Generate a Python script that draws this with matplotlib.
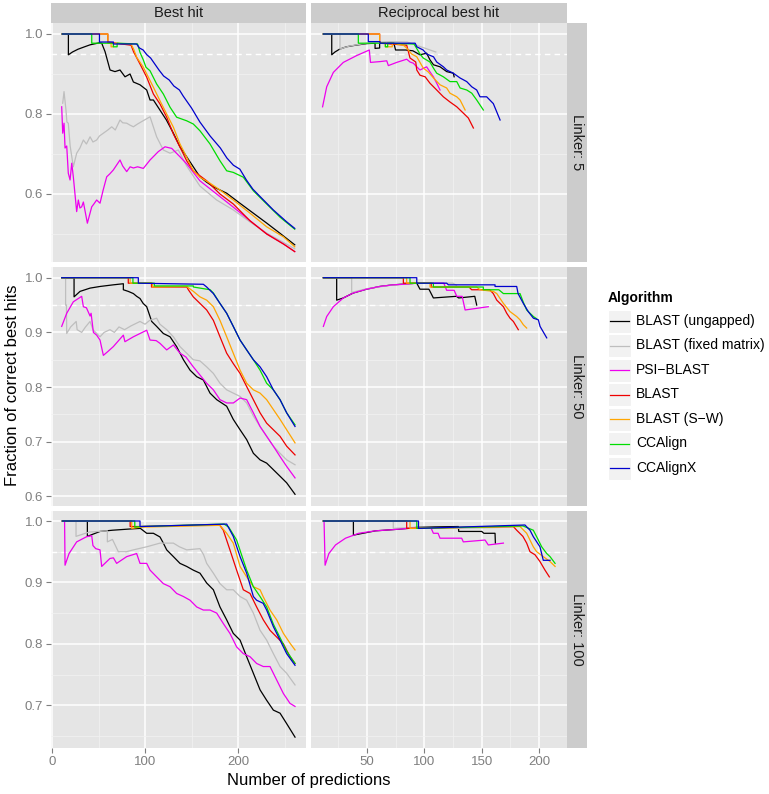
import matplotlib
matplotlib.use("Agg")
import matplotlib.pyplot as plt
from matplotlib.patches import Rectangle

plt.rcParams['font.family'] = ['Liberation Sans', 'DejaVu Sans']

ALGORITHMS = ["BLAST (ungapped)", "BLAST (fixed matrix)", "PSI\u2212BLAST", "BLAST",
              "BLAST (S\u2212W)", "CCAlign", "CCAlignX"]
COLOURS = ["#000000", "#BEBEBE", "#EE00EE", "#EE0000", "#FFA500", "#00DD00", "#0000CD"]
LINKERS = ["Linker: 5", "Linker: 50", "Linker: 100"]
HIT_TYPES = ["Best hit", "Reciprocal best hit"]

# ---- Linker 5, best hit  (x = number of predictions, y = fraction correct)
l5_best_ungapped = [(11, 1.0), (17.6, 1.0), (17.6, 0.948), (22, 0.955), (28, 0.962), (35, 0.968), (41, 0.973),
                    (51, 0.978), (53.4, 0.977), (57, 0.956), (62.4, 0.91), (67.7, 0.906), (73.1, 0.91),
                    (78.5, 0.893), (83.9, 0.9), (87.5, 0.88), (94.6, 0.873), (101.8, 0.86), (105.4, 0.835),
                    (109, 0.835), (116, 0.81), (123, 0.785), (130.5, 0.752), (137.6, 0.718), (144.8, 0.693),
                    (151.9, 0.668), (159, 0.643), (166, 0.63), (173.5, 0.618), (187.8, 0.602), (202, 0.577),
                    (216.5, 0.552), (231, 0.527), (245, 0.502), (261, 0.473)]
l5_best_fixed = [(11.5, 0.827), (12.9, 0.856), (15, 0.81), (16, 0.78), (17.5, 0.777), (19.5, 0.72), (22.9, 0.668),
                 (26.5, 0.702), (30, 0.715), (33.7, 0.735), (37, 0.725), (40.9, 0.743), (44, 0.73), (48, 0.735),
                 (51, 0.745), (55.2, 0.752), (60, 0.76), (64.2, 0.768), (68, 0.76), (73.1, 0.785), (76, 0.778),
                 (80.3, 0.777), (84, 0.772), (87.5, 0.768), (92, 0.775), (96.4, 0.781), (105.4, 0.793),
                 (112.5, 0.743), (119.7, 0.71), (126.9, 0.702), (135.8, 0.71), (144.8, 0.67), (159, 0.62),
                 (177, 0.585), (195, 0.56), (213, 0.53), (231, 0.502), (248, 0.48), (261, 0.463)]
l5_best_psi = [(10.4, 0.818), (11.5, 0.752), (12.9, 0.777), (14, 0.715), (15.8, 0.72), (17.5, 0.652),
               (19.4, 0.635), (21.2, 0.677), (22.9, 0.643), (26.5, 0.556), (28.3, 0.585), (30, 0.565),
               (31.9, 0.568), (33.7, 0.58), (38, 0.527), (42.7, 0.568), (45, 0.575), (48, 0.585), (51.6, 0.577),
               (55, 0.61), (58.8, 0.643), (62, 0.65), (65.9, 0.66), (73.1, 0.685), (76, 0.67), (80.3, 0.656),
               (84, 0.668), (87.5, 0.665), (92, 0.668), (98.2, 0.664), (105.4, 0.685), (114.3, 0.706),
               (121.5, 0.718), (128.7, 0.714), (137.6, 0.693), (145, 0.675), (159, 0.633), (177, 0.6),
               (195, 0.567), (213, 0.533), (231, 0.5), (249, 0.475), (261, 0.456)]
l5_best_blast = [(11, 1.0), (60, 1.0), (60, 0.98), (75, 0.975), (85, 0.972), (87.8, 0.955), (94.6, 0.925),
                 (101.8, 0.892), (109, 0.85), (116.1, 0.825), (123.3, 0.792), (130.5, 0.75), (137.6, 0.717),
                 (144.8, 0.683), (151.9, 0.658), (166.3, 0.633), (180.6, 0.6), (194.9, 0.575), (212.9, 0.533),
                 (230.8, 0.5), (248.8, 0.475), (261, 0.456)]
l5_best_sw = [(11, 1.0), (60, 1.0), (60, 0.977), (63.5, 0.977), (63.5, 0.968), (66, 0.968), (66, 0.977),
              (85, 0.975), (87.8, 0.962), (91, 0.942), (98.2, 0.917), (104, 0.89), (109, 0.867), (116.1, 0.833),
              (123.3, 0.8), (130.5, 0.767), (137.6, 0.725), (144.8, 0.692), (151.9, 0.658), (159.1, 0.642),
              (169.9, 0.627), (180.6, 0.61), (194.9, 0.585), (212.9, 0.552), (230.8, 0.518), (248.8, 0.493),
              (261, 0.468)]
l5_best_ccalign = [(11, 1.0), (42.7, 1.0), (42.7, 0.977), (66, 0.977), (66, 0.968), (70, 0.968), (70, 0.977),
                   (92, 0.975), (94.6, 0.954), (98.2, 0.935), (101, 0.917), (105.4, 0.908), (112.5, 0.875),
                   (119.7, 0.85), (126.9, 0.817), (134, 0.792), (144.8, 0.783), (151.9, 0.775), (159.1, 0.758),
                   (169.9, 0.725), (180.6, 0.683), (187.8, 0.658), (194.9, 0.654), (205.7, 0.642),
                   (216.5, 0.608), (230.8, 0.575), (245.2, 0.542), (261, 0.512)]
l5_best_ccalignx = [(11, 1.0), (51, 1.0), (51, 0.98), (66, 0.98), (66, 0.975), (91, 0.975), (94, 0.965),
                    (98, 0.96), (102, 0.948), (106, 0.94), (109, 0.93), (115, 0.91), (120, 0.895), (126, 0.885),
                    (131, 0.87), (137, 0.86), (141, 0.845), (150, 0.815), (159, 0.78), (170, 0.745),
                    (181, 0.715), (188, 0.69), (195, 0.672), (202, 0.662), (209, 0.635), (216, 0.612),
                    (224, 0.593), (238, 0.56), (252, 0.531), (261, 0.514)]

# ---- Linker 5, reciprocal best hit
l5_rbh_ungapped = [(11.9, 1.0), (19.2, 1.0), (19.2, 0.948), (22, 0.955), (26, 0.962), (32, 0.968), (40, 0.972),
                   (50, 0.976), (57, 0.977), (57, 0.964), (61, 0.965), (61, 0.977), (73.4, 0.977), (74.9, 0.96),
                   (83.6, 0.96), (90, 0.958), (96.2, 0.948), (102, 0.952), (105, 0.935), (108, 0.923),
                   (113.7, 0.918), (119.5, 0.906), (125.3, 0.902), (126, 0.893)]
l5_rbh_fixed = [(11.9, 1.0), (26.4, 1.0), (26.4, 0.962), (30, 0.966), (35, 0.97), (45, 0.975), (55, 0.979),
                (70, 0.981), (85, 0.98), (90, 0.975), (100, 0.965), (107, 0.958), (110, 0.955)]
l5_rbh_psi = [(11.2, 0.818), (14.8, 0.868), (20.6, 0.904), (29.3, 0.929), (40.9, 0.946), (52, 0.96), (53, 0.929),
              (61.3, 0.931), (67.2, 0.933), (68.6, 0.921), (75.9, 0.929), (84.6, 0.937), (87.5, 0.93),
              (90.4, 0.927), (93.4, 0.918), (96.2, 0.91), (102, 0.918), (105, 0.905), (107.9, 0.893),
              (110.8, 0.877), (113.7, 0.86)]
l5_rbh_blast = [(11.9, 1.0), (61, 1.0), (61, 0.977), (84.6, 0.972), (87.5, 0.94), (92.5, 0.93), (93.4, 0.91),
                (96.2, 0.897), (100.7, 0.893), (104.9, 0.877), (110.8, 0.86), (116.6, 0.843), (122.4, 0.83),
                (128.3, 0.818), (134.1, 0.802), (138.4, 0.79), (142.8, 0.765)]
l5_rbh_sw = [(11.9, 1.0), (61, 1.0), (61, 0.977), (66, 0.977), (66, 0.968), (72, 0.968), (72, 0.977),
             (81.7, 0.972), (84.6, 0.965), (88.9, 0.95), (93.4, 0.943), (96, 0.93), (99, 0.915), (103.5, 0.905),
             (108, 0.89), (113.7, 0.873), (119.5, 0.865), (122.4, 0.852), (128.3, 0.843), (131.2, 0.835),
             (135.6, 0.81)]
l5_rbh_ccalign = [(11.9, 1.0), (42.4, 1.0), (42.4, 0.977), (66, 0.977), (66, 0.968), (68, 0.968), (68, 0.977),
                  (91, 0.975), (92.5, 0.968), (96.2, 0.95), (99, 0.94), (104.9, 0.93), (107.9, 0.915),
                  (110.8, 0.902), (116.6, 0.893), (122.4, 0.881), (128.3, 0.881), (131.2, 0.865), (137, 0.86),
                  (141.4, 0.852), (145.7, 0.835), (151.5, 0.81)]
l5_rbh_ccalignx = [(11.9, 1.0), (51.1, 1.0), (51.1, 0.981), (61.3, 0.981), (61.3, 0.977), (92, 0.977),
                   (93.4, 0.968), (99, 0.96), (102, 0.95), (108, 0.943), (110.8, 0.93), (116.6, 0.918),
                   (119.5, 0.91), (125.3, 0.902), (131.2, 0.89), (137, 0.881), (141.4, 0.868), (145.7, 0.86),
                   (148.6, 0.843), (154.4, 0.843), (160.2, 0.826), (166.1, 0.785)]

# ---- Linker 50, best hit
l50_best_ungapped = [(10.4, 1.0), (23.7, 1.0), (23.7, 0.965), (30.1, 0.975), (40.9, 0.981), (51.6, 0.984),
                     (65.9, 0.987), (76.7, 0.989), (76.7, 0.978), (82, 0.975), (87.5, 0.971), (91, 0.966),
                     (94.6, 0.962), (98, 0.953), (101.8, 0.947), (107.2, 0.92), (112.5, 0.911), (119.7, 0.898),
                     (126.9, 0.892), (134, 0.874), (141.3, 0.85), (148.4, 0.831), (155.6, 0.819), (162.7, 0.813),
                     (169.9, 0.789), (177.1, 0.777), (187.8, 0.765), (194.9, 0.741), (202.2, 0.722),
                     (209.3, 0.704), (216.5, 0.679), (223.7, 0.667), (230.8, 0.661), (238, 0.649),
                     (245.2, 0.637), (252.3, 0.625), (261.3, 0.604)]
l50_best_fixed = [(10.4, 1.0), (14.6, 1.0), (14.6, 0.95), (15.5, 0.95), (15.8, 0.898), (20, 0.91), (26, 0.92),
                  (27, 0.905), (31.9, 0.9), (36, 0.91), (40.9, 0.92), (44, 0.905), (51.6, 0.892), (56, 0.9),
                  (62.3, 0.905), (67, 0.9), (72, 0.91), (78, 0.905), (85, 0.912), (94.6, 0.92), (100, 0.915),
                  (105, 0.922), (112.5, 0.926), (116, 0.915), (123.3, 0.905), (130.5, 0.892), (137.6, 0.874),
                  (144.8, 0.862), (151.9, 0.85), (159, 0.848), (166.3, 0.837), (173.5, 0.825), (180.6, 0.807),
                  (187.8, 0.795), (194.9, 0.789), (202.2, 0.783), (209.3, 0.771), (216.5, 0.747),
                  (223.7, 0.728), (230.8, 0.71), (238, 0.692), (245.2, 0.679), (252.3, 0.667), (261.3, 0.658)]
l50_best_psi = [(10.4, 0.911), (15.8, 0.935), (22.9, 0.956), (31.9, 0.966), (33.7, 0.947), (37, 0.945),
                (40.9, 0.93), (42, 0.935), (44.5, 0.9), (48, 0.895), (51.6, 0.886), (55.2, 0.858), (60, 0.865),
                (65.9, 0.874), (76.7, 0.895), (78.4, 0.883), (87.5, 0.892), (101.8, 0.904), (105.4, 0.886),
                (112, 0.885), (116.1, 0.88), (123.3, 0.868), (130.5, 0.877), (137.6, 0.862), (144, 0.855),
                (151.9, 0.837), (159.1, 0.822), (166.3, 0.807), (173.5, 0.795), (180.6, 0.777), (187.8, 0.771),
                (195, 0.771), (202.2, 0.78), (209.3, 0.777), (216.5, 0.753), (223.7, 0.728), (230.8, 0.71),
                (238, 0.692), (245.2, 0.673), (252.3, 0.655), (261.3, 0.634)]
l50_best_blast = [(10.4, 1.0), (82, 1.0), (82, 0.99), (107, 0.99), (107, 0.983), (145, 0.983), (146.6, 0.978),
                  (151.9, 0.965), (159.1, 0.953), (166.3, 0.941), (173.5, 0.922), (180.6, 0.892),
                  (187.8, 0.862), (194.9, 0.843), (202.2, 0.825), (209.3, 0.801), (216.5, 0.777),
                  (223.7, 0.753), (230.8, 0.734), (238, 0.722), (245.2, 0.71), (252.3, 0.692), (261.3, 0.676)]
l50_best_sw = [(10.4, 1.0), (84, 1.0), (84, 0.99), (108, 0.99), (108, 0.983), (144.8, 0.984), (152, 0.975),
               (159.1, 0.965), (166.3, 0.959), (173.5, 0.947), (180.6, 0.922), (187.8, 0.892), (194.9, 0.862),
               (202.2, 0.831), (209.3, 0.807), (216.5, 0.795), (223.7, 0.789), (230.8, 0.777), (238, 0.759),
               (245.2, 0.741), (252.3, 0.722), (261.3, 0.698)]
l50_best_ccalign = [(10.4, 1.0), (87, 1.0), (87, 0.99), (110, 0.99), (110, 0.985), (152, 0.985), (152, 0.983),
                    (170, 0.978), (173.5, 0.972), (180.6, 0.953), (187.8, 0.935), (194.9, 0.911),
                    (202.2, 0.886), (209.3, 0.868), (216.5, 0.85), (223.7, 0.831), (230.8, 0.807),
                    (238, 0.795), (245.2, 0.777), (252.3, 0.753), (261.3, 0.731)]
l50_best_ccalignx = [(10.4, 1.0), (92.8, 1.0), (92.8, 0.99), (162.7, 0.988), (166.3, 0.983), (173.5, 0.971),
                     (180.6, 0.953), (187.8, 0.935), (194.9, 0.911), (202.2, 0.886), (209.3, 0.868),
                     (216.5, 0.85), (223.7, 0.837), (230.8, 0.819), (238, 0.795), (245.2, 0.777),
                     (252.3, 0.753), (261.3, 0.728)]

# ---- Linker 50, reciprocal best hit
l50_rbh_ungapped = [(11.9, 1.0), (23.5, 1.0), (23.5, 0.959), (29.3, 0.963), (37.9, 0.972), (49.5, 0.979),
                    (61.1, 0.984), (72.7, 0.987), (93.4, 0.99), (96.2, 0.979), (104, 0.979), (107.9, 0.963),
                    (128, 0.966), (130, 0.963), (144, 0.966), (145.7, 0.95)]
l50_rbh_fixed = [(11.9, 1.0), (36.6, 1.0), (36.6, 0.973), (50, 0.98), (70, 0.986), (93.4, 0.99), (125, 0.99),
                 (128, 0.986)]
l50_rbh_psi = [(11.9, 0.911), (14.8, 0.929), (20.6, 0.947), (29.3, 0.963), (37.9, 0.972), (49.5, 0.979),
               (61.1, 0.984), (72.7, 0.987), (81.7, 0.988), (93.4, 0.99), (117, 0.99), (119.5, 0.977),
               (126, 0.977), (128.3, 0.966), (133, 0.966), (135.6, 0.941), (145.7, 0.944), (155.8, 0.947)]
l50_rbh_blast = [(11.9, 1.0), (81.7, 1.0), (81.7, 0.99), (106, 0.99), (106, 0.983), (139, 0.983),
                 (141.3, 0.978), (157, 0.978), (160.2, 0.971), (163.2, 0.959), (169, 0.947), (171.9, 0.935),
                 (174.8, 0.926), (177.7, 0.92), (182, 0.905)]
l50_rbh_sw = [(11.9, 1.0), (84.6, 1.0), (84.6, 0.99), (105, 0.99), (105, 0.983), (145.7, 0.983), (148.6, 0.978),
              (160.2, 0.975), (163.2, 0.971), (169, 0.953), (174.8, 0.938), (180.6, 0.929), (183.5, 0.923),
              (186.4, 0.914), (189.3, 0.908)]
l50_rbh_ccalign = [(11.9, 1.0), (87.5, 1.0), (87.5, 0.99), (107.9, 0.99), (107.9, 0.983), (151.5, 0.983),
                   (151.5, 0.978), (165, 0.978), (169, 0.971), (183.5, 0.971), (186.4, 0.955), (189.3, 0.941),
                   (195.2, 0.929), (198, 0.925)]
l50_rbh_ccalignx = [(11.9, 1.0), (93.4, 1.0), (93.4, 0.99), (119.5, 0.99), (121, 0.987), (161.7, 0.987),
                    (161.7, 0.984), (180.6, 0.984), (181.8, 0.971), (186.4, 0.953), (190.7, 0.938),
                    (195.2, 0.926), (199.5, 0.923), (201, 0.911), (206.8, 0.89)]

# ---- Linker 100, best hit
l100_best_ungapped = [(11.1, 1.0), (38, 1.0), (38, 0.975), (51.6, 0.983), (65, 0.985), (83.9, 0.987),
                      (95, 0.988), (101.8, 0.98), (109, 0.98), (116.1, 0.974), (119.7, 0.964), (123.3, 0.953),
                      (130.5, 0.942), (137.6, 0.931), (144.8, 0.926), (151.9, 0.92), (159.1, 0.915),
                      (166.3, 0.899), (173.5, 0.888), (180.6, 0.86), (187.8, 0.839), (194.9, 0.817),
                      (202.2, 0.806), (209.3, 0.779), (216.5, 0.752), (223.7, 0.725), (230.8, 0.708),
                      (238, 0.692), (245.2, 0.687), (252.3, 0.67), (261.3, 0.648)]
l100_best_fixed = [(11.1, 1.0), (25.8, 1.0), (25.8, 0.975), (40, 0.982), (59.5, 0.984), (59.5, 0.966),
                   (65, 0.97), (71.3, 0.95), (80, 0.95), (87.5, 0.953), (101.8, 0.958), (116.1, 0.964),
                   (130.5, 0.964), (137, 0.958), (144.8, 0.953), (159.1, 0.955), (163, 0.945), (166.3, 0.931),
                   (173.5, 0.915), (180.6, 0.898), (187.8, 0.888), (194.9, 0.888), (202.2, 0.877),
                   (209.3, 0.871), (216.5, 0.85), (223.7, 0.822), (230.8, 0.806), (238, 0.784),
                   (245.2, 0.763), (252.3, 0.752), (261.3, 0.733)]
l100_best_psi = [(12.2, 1.0), (13.5, 1.0), (14, 0.928), (18.3, 0.947), (26.5, 0.966), (37.3, 0.9745),
                 (42.7, 0.976), (44, 0.96), (47, 0.955), (51.6, 0.953), (53.4, 0.926), (62.3, 0.939),
                 (66, 0.94), (69.5, 0.931), (80.3, 0.942), (91, 0.947), (94.6, 0.931), (101.8, 0.931),
                 (105.4, 0.92), (112.5, 0.909), (119.7, 0.898), (126.9, 0.893), (134, 0.882), (141.3, 0.877),
                 (148.4, 0.871), (155.6, 0.86), (162.7, 0.855), (169.9, 0.855), (177.1, 0.85), (184.2, 0.833),
                 (191.3, 0.817), (198.5, 0.795), (205.7, 0.784), (212.9, 0.779), (220, 0.768),
                 (227.2, 0.763), (234.4, 0.763), (241.6, 0.741), (248.8, 0.719), (255.9, 0.703),
                 (261.3, 0.698)]
l100_best_blast = [(11.1, 1.0), (84, 1.0), (84, 0.991), (95, 0.991), (180, 0.994), (184.2, 0.985),
                   (191.3, 0.953), (198.5, 0.92), (205.7, 0.888), (212.9, 0.882), (220, 0.86), (227.2, 0.839),
                   (234.4, 0.822), (241.6, 0.811), (248.8, 0.8), (255.9, 0.779), (261.3, 0.768)]
l100_best_sw = [(11.1, 1.0), (85.7, 1.0), (85.7, 0.988), (95, 0.99), (180.6, 0.993), (187.8, 0.98),
                (194.9, 0.964), (202.2, 0.926), (209.3, 0.909), (216.5, 0.893), (223.7, 0.888), (227, 0.877),
                (234.4, 0.855), (241.6, 0.839), (248.8, 0.817), (255.9, 0.801), (261.3, 0.79)]
l100_best_ccalign = [(11.1, 1.0), (89, 1.0), (89, 0.99), (95, 0.991), (185, 0.995), (190, 0.99),
                     (198.5, 0.969), (209.3, 0.92), (216.5, 0.893), (223.7, 0.877), (230.8, 0.86),
                     (238, 0.832), (245.2, 0.81), (252.3, 0.788), (261.3, 0.768)]
l100_best_ccalignx = [(11.1, 1.0), (94.6, 1.0), (94.6, 0.991), (187.8, 0.995), (194.9, 0.975),
                      (202.2, 0.942), (209.3, 0.915), (216.5, 0.877), (220, 0.871), (227, 0.866),
                      (230.8, 0.855), (238, 0.828), (245.2, 0.806), (252.3, 0.784), (261.3, 0.765)]

# ---- Linker 100, reciprocal best hit
l100_rbh_ungapped = [(11.9, 1.0), (38.1, 1.0), (38.1, 0.977), (57.4, 0.984), (72.9, 0.986), (86, 0.988),
                     (94.9, 0.99), (129.7, 0.991), (130, 0.983), (150.1, 0.983), (152, 0.98), (161.7, 0.98),
                     (162, 0.964)]
l100_rbh_fixed = [(11.9, 1.0), (72.9, 1.0), (72.9, 0.988), (94.9, 0.99), (130, 0.988), (178, 0.99)]
l100_rbh_psi = [(12.5, 1.0), (13.4, 0.928), (16.7, 0.947), (22.5, 0.961), (31.2, 0.972), (42.8, 0.98),
                (57.4, 0.984), (72.9, 0.986), (86, 0.988), (106, 0.988), (107.9, 0.98), (112, 0.98),
                (113.7, 0.972), (132.6, 0.972), (134, 0.966), (153, 0.969), (155.8, 0.961), (169, 0.964)]
l100_rbh_blast = [(11.9, 1.0), (84.6, 1.0), (84.6, 0.988), (177.7, 0.991), (180.6, 0.985), (186, 0.975),
                  (189.3, 0.964), (192.2, 0.95), (196.6, 0.945), (200.9, 0.934), (205.3, 0.92), (209.1, 0.909)]
l100_rbh_sw = [(11.9, 1.0), (87.5, 1.0), (87.5, 0.988), (183.5, 0.991), (189.3, 0.98), (195.1, 0.958),
               (198, 0.95), (203.8, 0.942), (209.7, 0.934), (214.1, 0.926)]
l100_rbh_ccalign = [(11.9, 1.0), (93.4, 1.0), (93.4, 0.988), (186, 0.992), (195.1, 0.985), (198, 0.9745),
                    (202.4, 0.958), (206.8, 0.947), (209.7, 0.942), (214.1, 0.931)]
l100_rbh_ccalignx = [(11.9, 1.0), (94.9, 1.0), (94.9, 0.988), (187.8, 0.9935), (192.2, 0.985),
                     (195.1, 0.9745), (200.9, 0.958), (203.8, 0.936), (209.7, 0.936)]

# tick labels
Y_TICKS = [[0.6, 0.8, 1.0], [0.6, 0.7, 0.8, 0.9, 1.0], [0.7, 0.8, 0.9, 1.0]]
Y_MINOR = [[0.5, 0.7, 0.9], [0.65, 0.75, 0.85, 0.95], [0.65, 0.75, 0.85, 0.95]]
X_TICKS = [[0, 100, 200], [50, 100, 150, 200]]
X_MINOR = [[50, 150, 250], [25, 75, 125, 175]]

panels = [
    [[l5_best_ungapped, l5_best_fixed, l5_best_psi, l5_best_blast, l5_best_sw, l5_best_ccalign, l5_best_ccalignx],
     [l5_rbh_ungapped, l5_rbh_fixed, l5_rbh_psi, l5_rbh_blast, l5_rbh_sw, l5_rbh_ccalign, l5_rbh_ccalignx]],
    [[l50_best_ungapped, l50_best_fixed, l50_best_psi, l50_best_blast, l50_best_sw, l50_best_ccalign,
      l50_best_ccalignx],
     [l50_rbh_ungapped, l50_rbh_fixed, l50_rbh_psi, l50_rbh_blast, l50_rbh_sw, l50_rbh_ccalign, l50_rbh_ccalignx]],
    [[l100_best_ungapped, l100_best_fixed, l100_best_psi, l100_best_blast, l100_best_sw, l100_best_ccalign,
      l100_best_ccalignx],
     [l100_rbh_ungapped, l100_rbh_fixed, l100_rbh_psi, l100_rbh_blast, l100_rbh_sw, l100_rbh_ccalign,
      l100_rbh_ccalignx]],
]

W, H = 769, 794
fig = plt.figure(figsize=(W / 100, H / 100), dpi=100)


def px_axes(x0, y0, x1, y1):
    return fig.add_axes([x0 / W, 1 - y1 / H, (x1 - x0) / W, (y1 - y0) / H])


col_px = [(51, 306), (311, 567)]
row_px = [(23, 262), (267, 506), (511, 748)]
x_lims = [(-1.1, 273.1), (1.1, 224.5)]
y_lims = [(0.43, 1.0275), (0.5826, 1.0196), (0.6303, 1.0163)]
grey_txt = "#7F7F7F"

for r in range(3):
    for c in range(2):
        ax = px_axes(col_px[c][0], row_px[r][0], col_px[c][1], row_px[r][1])
        ax.set_facecolor("#E5E5E5")
        for s in ax.spines.values():
            s.set_visible(False)
        ax.set_xlim(*x_lims[c])
        ax.set_ylim(*y_lims[r])
        ax.set_xticks(X_TICKS[c])
        ax.set_xticks(X_MINOR[c], minor=True)
        ax.set_yticks(Y_TICKS[r])
        ax.set_yticks(Y_MINOR[r], minor=True)
        ax.grid(which="major", color="white", lw=1.1)
        ax.grid(which="minor", color="#F2F2F2", lw=0.5)
        ax.set_axisbelow(True)
        ax.tick_params(which="minor", length=0)
        ax.tick_params(which="major", direction="out", length=3.5, width=0.8, color=grey_txt,
                       labelcolor=grey_txt, labelsize=9.5, pad=2)
        if c == 0:
            ax.set_yticklabels(["%.1f" % v for v in Y_TICKS[r]])
        else:
            ax.tick_params(axis="y", left=False, labelleft=False)
        if r == 2:
            ax.set_xticklabels([str(v) for v in X_TICKS[c]])
        else:
            ax.tick_params(axis="x", bottom=False, labelbottom=False)
        ax.axhline(0.95, color="white", lw=1.0, ls=(0, (4, 3)), zorder=1.5)
        for pts, col in zip(panels[r][c], COLOURS):
            xs, ys = zip(*pts)
            ax.plot(xs, ys, color=col, lw=0.9, zorder=3)

# strips
for c in range(2):
    sax = px_axes(col_px[c][0], 3, col_px[c][1], 23)
    sax.set_facecolor("#CCCCCC")
    sax.set_xticks([])
    sax.set_yticks([])
    for s in sax.spines.values():
        s.set_visible(False)
    sax.text(0.5, 0.5, HIT_TYPES[c], ha="center", va="center", fontsize=10.5, color="#1A1A1A",
             transform=sax.transAxes)
for r in range(3):
    sax = px_axes(567, row_px[r][0], 587, row_px[r][1])
    sax.set_facecolor("#CCCCCC")
    sax.set_xticks([])
    sax.set_yticks([])
    for s in sax.spines.values():
        s.set_visible(False)
    sax.text(0.5, 0.5, LINKERS[r], ha="center", va="center", fontsize=10.5, color="#1A1A1A",
             rotation=-90, transform=sax.transAxes)

# axis titles
fig.text(13 / W, 1 - 385.5 / H, "Fraction of correct best hits", rotation=90, ha="center", va="center",
         fontsize=12)
fig.text(309 / W, 1 - 781 / H, "Number of predictions", ha="center", va="center", fontsize=12)

# legend
lax = px_axes(600, 280, 769, 490)
lax.set_xlim(600, 769)
lax.set_ylim(490, 280)
lax.axis("off")
lax.text(608, 298, "Algorithm", fontsize=10, fontweight="bold", va="center", ha="left")
for i, (name, col) in enumerate(zip(ALGORITHMS, COLOURS)):
    yc = 321 + 24.5 * i
    lax.add_patch(Rectangle((608, yc - 11.5), 23, 23, facecolor="#F2F2F2", edgecolor="white", lw=0.8))
    lax.plot([610, 629], [yc, yc], color=col, lw=0.9)
    lax.text(636, yc, name, fontsize=10, va="center", ha="left")

fig.savefig("out.png", dpi=100)
